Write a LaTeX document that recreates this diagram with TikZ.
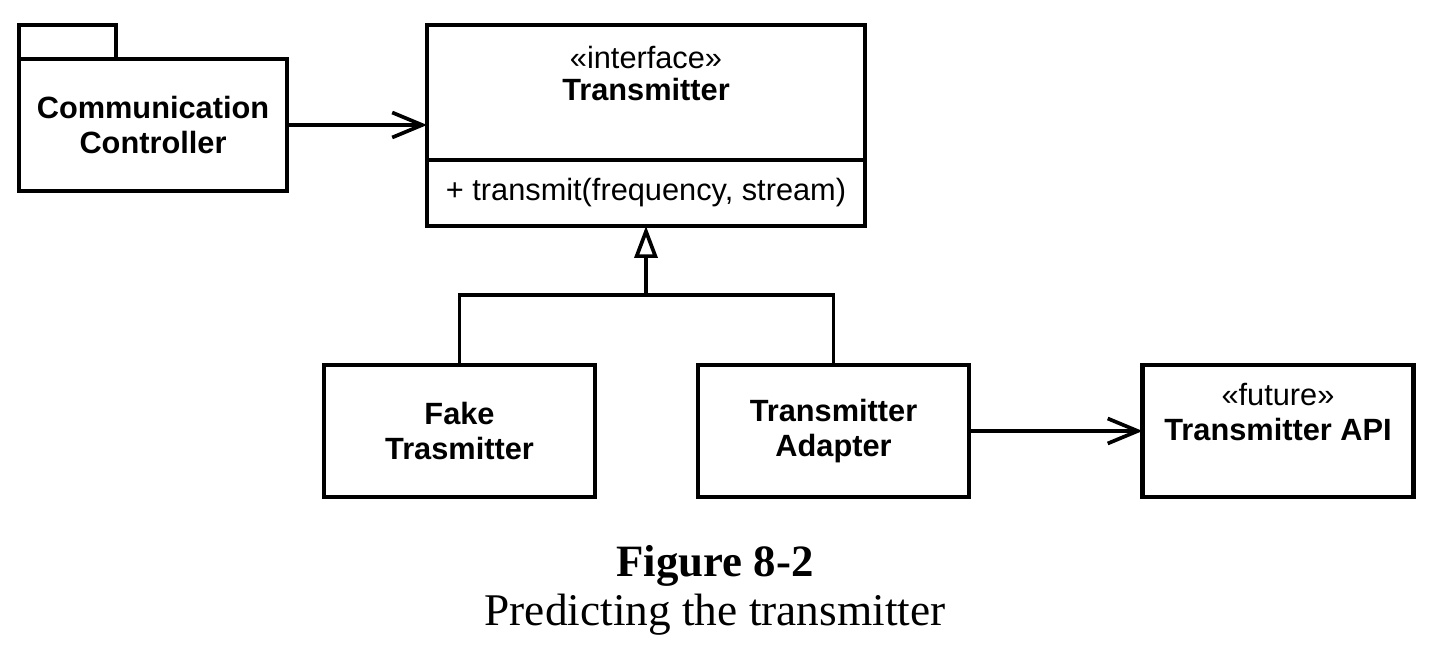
\documentclass[tikz,border=0pt]{standalone}
\usepackage{fontspec}
\setmainfont{Liberation Sans}
\newfontfamily\capfont{Liberation Serif}
\usetikzlibrary{positioning, arrows.meta}
\newcommand{\umlsize}{\fontsize{17.5}{20}\selectfont}
\tikzset{
  umlbox/.style={draw, line width=2.6pt, minimum width=5.42cm, minimum height=2.64cm, align=center, font=\bfseries\umlsize, inner sep=0pt, outer sep=0pt},
  uses/.style={line width=2.1pt, -{Straight Barb[length=0.6cm, width=0.5cm]}},
  inherits/.style={line width=2.1pt, -{Triangle[open, length=0.64cm, width=0.46cm]}},
}

\begin{document}
\begin{tikzpicture}
  \useasboundingbox (0,0) rectangle (29.08,-13.06);
  % Package
  \node[umlbox, minimum width=5.36cm] (cc) at (3.06,-2.5) {Communication\\Controller};
  \node[umlbox, minimum width=1.94cm, minimum height=0.68cm, anchor=south west] (cctab) at (cc.north west) {};

  % Interface
  \node[umlbox, minimum width=8.76cm, minimum height=2.7cm] (tr) at (12.92,-1.85) {};
  \node[umlbox, font=\umlsize, minimum width=8.76cm, minimum height=1.32cm, anchor=north] (trops) at (tr.south) {+ transmit(frequency, stream)};
  \node[anchor=base, font=\umlsize] (trst) at (12.92,-1.38) {«interface»};
  \node[anchor=base, font=\bfseries\umlsize] (trname) at (12.92,-2.02) {Transmitter};

  % Implementations
  \node[umlbox] (fake) at (9.19,-8.62) {Fake\\Trasmitter};
  \node[umlbox] (adapter) at (16.67,-8.62) {Transmitter\\Adapter};
  \node[umlbox] (api) at (25.56,-8.62) {};
  \node[anchor=base, font=\umlsize] (apist) at (25.56,-8.1) {«future»};
  \node[anchor=base, font=\bfseries\umlsize] (apiname) at (25.56,-8.8) {Transmitter API};

  % Arrows
  \coordinate (join) at (12.92,-5.9);
  \draw[line width=2.1pt] (fake.north) |- (join) -| (adapter.north);
  \draw[inherits] (join) -- (trops.south);
  \draw[uses] (cc.east) -- (cc.east -| tr.west);
  \draw[uses] (adapter) -- (api);

  % Caption
  \node[anchor=base, font=\capfont\bfseries\fontsize{25.5}{30}\selectfont] (figno) at (14.3,-11.52) {Figure 8-2};
  \node[anchor=base, font=\capfont\fontsize{25.8}{30}\selectfont] (figcap) at (14.3,-12.5) {Predicting the transmitter};
\end{tikzpicture}
\end{document}
